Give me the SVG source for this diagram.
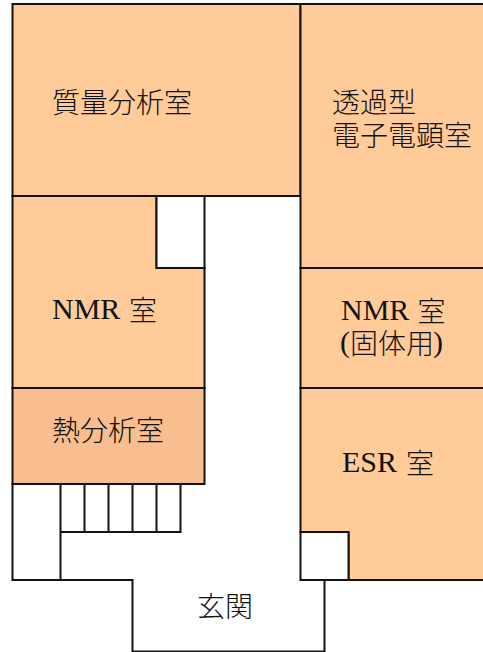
<svg xmlns="http://www.w3.org/2000/svg" width="483" height="652" viewBox="0 0 483 652">
<style>
.r{fill:#ffcb99;stroke:#111;stroke-width:2}
.w{fill:#fff;stroke:#111;stroke-width:2}
.l{fill:none;stroke:#111;stroke-width:2}
text{font-family:"Liberation Serif","Noto Sans CJK JP",serif;font-size:30px;fill:#111}
.c{font-family:"Noto Sans CJK JP",sans-serif;font-weight:300;font-size:28px}
</style>
<rect width="483" height="652" fill="#fff"/>
<g id="room-mass"><rect class="r" x="12.500" y="4" width="288" height="192"/><text class="c" x="52" y="113">質量分析室</text></g>
<g id="room-tem"><rect class="r" x="300.500" y="4" width="190" height="264"/><text class="c"><tspan x="332" y="113">透過型</tspan><tspan x="332" y="146">電子電顕室</tspan></text></g>
<g id="room-nmr"><path class="r" d="M12.500 196H156.500V268H204.500V388H12.500Z"/><rect class="w" x="156.500" y="196" width="48" height="72"/><text><tspan x="52" y="319">NMR</tspan><tspan class="c" x="129" y="321">室</tspan></text></g>
<g id="room-nmr-solid"><rect class="r" x="300.500" y="268" width="190" height="120"/><text><tspan x="341" y="320">NMR</tspan><tspan class="c" x="417.500" y="322">室</tspan><tspan x="340" y="352">(</tspan><tspan class="c" x="350" y="354">固体用</tspan><tspan x="433" y="352">)</tspan></text></g>
<g id="room-thermal"><rect x="12.500" y="388" width="192" height="96" fill="#f9be8f" stroke="#111" stroke-width="2"/><text class="c" x="52" y="441">熱分析室</text></g>
<g id="room-esr"><path class="r" d="M300.500 388H490V580H348.500V532H300.500Z"/><text><tspan x="342" y="472">ESR</tspan><tspan class="c" x="406" y="474">室</tspan></text></g>
<g id="entrance-closet"><rect class="w" x="300.500" y="532" width="48" height="48"/></g>
<g id="stair-left"><rect class="w" x="12.500" y="484" width="48" height="96"/></g>
<g id="stairs"><path class="l" d="M60.500 532H180.500V484M84.500 484V532M108.500 484V532M132.500 484V532M156.500 484V532"/></g>
<g id="entrance"><path class="l" d="M60.500 580H132.500V651.500H324.500V580"/><text class="c" x="197" y="617">玄関</text></g>
<g id="connectors"></g>
</svg>
